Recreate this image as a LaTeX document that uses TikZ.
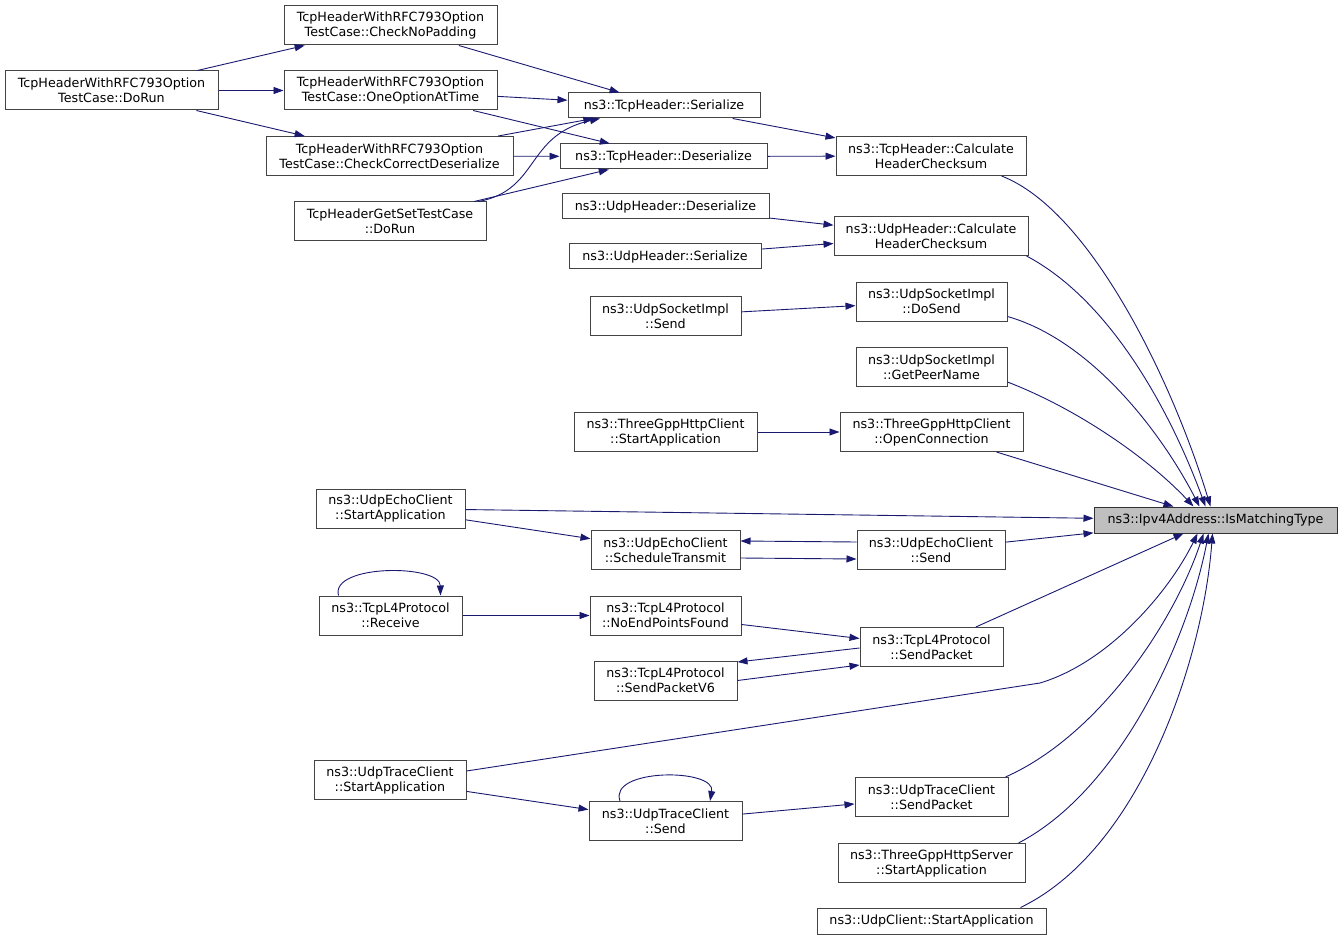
\documentclass[tikz,border=0pt]{standalone}
\usepackage{fontspec}
\setmainfont{DejaVu Sans}
\usetikzlibrary{arrows.meta}
\definecolor{edgeblue}{HTML}{191970}
\definecolor{boxline}{HTML}{444444}
\definecolor{hlfill}{HTML}{BFBFBF}
\begin{document}
\begin{tikzpicture}[x=1pt,y=-1pt,
  nb/.style={draw=boxline, line width=1pt, fill=white, inner sep=0pt, align=center,
    font=\fontsize{12.7}{15}\selectfont},
  two/.style={minimum height=39pt},
  one/.style={minimum height=25pt},
  hl/.style={nb, fill=hlfill, draw=black!80},
  ed/.style={draw=edgeblue, line width=0.9pt, -{Triangle[length=10pt,width=7pt]}, fill=none},
]
\useasboundingbox (0,0) rectangle (1343,941);
% nodes
\node[nb,two,minimum width=213pt] (cnp) at (390.5,25.5) {TcpHeaderWithRFC793Option\\TestCase::CheckNoPadding};
\node[nb,two,minimum width=213pt] (dorun) at (111.5,90.5) {TcpHeaderWithRFC793Option\\TestCase::DoRun};
\node[nb,two,minimum width=213pt] (ooat) at (390.5,90.5) {TcpHeaderWithRFC793Option\\TestCase::OneOptionAtTime};
\node[nb,two,minimum width=247pt] (ccd) at (389.5,156) {TcpHeaderWithRFC793Option\\TestCase::CheckCorrectDeserialize};
\node[nb,two,minimum width=192pt] (getset) at (390,221.5) {TcpHeaderGetSetTestCase\\::DoRun};
\node[nb,one,minimum width=192pt] (tser) at (664,105.5) {ns3::TcpHeader::Serialize};
\node[nb,one,minimum width=207pt] (tdes) at (663.5,156.5) {ns3::TcpHeader::Deserialize};
\node[nb,two,minimum width=190pt] (tcalc) at (931,156) {ns3::TcpHeader::Calculate\\HeaderChecksum};
\node[nb,one,minimum width=207pt] (udes) at (665.5,206.5) {ns3::UdpHeader::Deserialize};
\node[nb,two,minimum width=194pt] (ucalc) at (931,236) {ns3::UdpHeader::Calculate\\HeaderChecksum};
\node[nb,one,minimum width=192pt] (user) at (665,256.5) {ns3::UdpHeader::Serialize};
\node[nb,two,minimum width=151pt] (usend) at (665.5,316) {ns3::UdpSocketImpl\\::Send};
\node[nb,two,minimum width=151pt] (dosend) at (931.5,301.5) {ns3::UdpSocketImpl\\::DoSend};
\node[nb,two,minimum width=151pt] (gpn) at (931.5,367) {ns3::UdpSocketImpl\\::GetPeerName};
\node[nb,two,minimum width=183pt] (tgcs) at (665.5,432) {ns3::ThreeGppHttpClient\\::StartApplication};
\node[nb,two,minimum width=183pt] (opc) at (931.5,432) {ns3::ThreeGppHttpClient\\::OpenConnection};
\node[nb,two,minimum width=149pt] (uecs) at (390.5,508.5) {ns3::UdpEchoClient\\::StartApplication};
\node[hl,one,minimum width=243pt,minimum height=26pt] (ipv4) at (1215.5,520) {ns3::Ipv4Address::IsMatchingType};
\node[nb,two,minimum width=149pt] (st) at (665.5,550) {ns3::UdpEchoClient\\::ScheduleTransmit};
\node[nb,two,minimum width=148pt] (uesend) at (931,550) {ns3::UdpEchoClient\\::Send};
\node[nb,two,minimum width=143pt] (recv) at (390.5,615.5) {ns3::TcpL4Protocol\\::Receive};
\node[nb,two,minimum width=151pt] (nepf) at (665.5,615.5) {ns3::TcpL4Protocol\\::NoEndPointsFound};
\node[nb,two,minimum width=143pt] (sp) at (931.5,647) {ns3::TcpL4Protocol\\::SendPacket};
\node[nb,two,minimum width=143pt] (v6) at (665.5,680.5) {ns3::TcpL4Protocol\\::SendPacketV6};
\node[nb,two,minimum width=152pt] (utsa) at (390,780) {ns3::UdpTraceClient\\::StartApplication};
\node[nb,two,minimum width=153pt] (uts) at (665.5,821) {ns3::UdpTraceClient\\::Send};
\node[nb,two,minimum width=153pt] (utsp) at (931.5,797) {ns3::UdpTraceClient\\::SendPacket};
\node[nb,two,minimum width=187pt] (tgss) at (931.5,863) {ns3::ThreeGppHttpServer\\::StartApplication};
\node[nb,one,minimum width=229pt,minimum height=26pt] (ucsa) at (931.5,921) {ns3::UdpClient::StartApplication};
% edges
\draw[ed] (dorun) -- (cnp);
\draw[ed] (dorun) -- (ooat);
\draw[ed] (dorun) -- (ccd);
\draw[ed] (cnp) -- (tser);
\draw[ed] (ooat) -- (tser);
\draw[ed] (ooat) -- (tdes);
\draw[ed] (ccd) -- (tser);
\draw[ed] (ccd) -- (tdes);
\draw[ed] ([xshift=-8pt]getset.north east) .. controls (540,190) and (525,135) .. ([xshift=-64pt]tser.south);
\draw[ed] (getset) -- (tdes);
\draw[ed] (tser) -- (tcalc);
\draw[ed] (tdes) -- (tcalc);
\draw[ed] (udes) -- (ucalc);
\draw[ed] (user) -- (ucalc);
\draw[ed] (usend) -- (dosend);
\draw[ed] (tgcs) -- (opc);
\draw[ed] (uecs) -- (ipv4);
\draw[ed] (uecs) -- (st);
\draw[ed] ([yshift=-8pt]st.east) -- ([yshift=-9pt]uesend.west);
\draw[ed] ([yshift=8pt]uesend.west) -- ([yshift=9pt]st.east);
\draw[ed] (uesend) -- (ipv4);
\draw[ed] ([xshift=-52pt]recv.north) .. controls (330,564) and (440,564) .. ([xshift=50pt]recv.north);
\draw[ed] (recv) -- (nepf);
\draw[ed] (nepf) -- (sp);
\draw[ed] ([yshift=-1pt]sp.west) -- ([yshift=18.5pt]v6.east);
\draw[ed] (v6.east) -- ([yshift=-18pt]sp.west);
\draw[ed] (sp) -- ([xshift=-32pt]ipv4.south);
\draw[ed] (utsa) -- (uts);
\draw[ed] ([xshift=-45.5pt]uts.north) .. controls (608,768) and (716,768) .. ([xshift=44.5pt]uts.north);
\draw[ed] (uts) -- (utsp);
\draw[ed] ([yshift=9pt]utsa.east) -- (1040,683) .. controls (1110,662) and (1170,590) .. ([xshift=-18pt]ipv4.south);
\draw[ed] ([xshift=-3pt]utsp.north east) .. controls (1100,735) and (1175,620) .. ([xshift=-12pt]ipv4.south);
\draw[ed] ([xshift=-7pt]tgss.north east) .. controls (1120,790) and (1188,640) .. ([xshift=-7pt]ipv4.south);
\draw[ed] ([xshift=-26pt]ucsa.north east) .. controls (1140,850) and (1203,660) .. ([xshift=-3pt]ipv4.south);
\draw[ed] ([xshift=-25pt]tcalc.south east) .. controls (1090,210) and (1172,380) .. ([xshift=-5pt]ipv4.north);
\draw[ed] ([xshift=-2pt]ucalc.south east) .. controls (1110,300) and (1170,410) .. ([xshift=-10pt]ipv4.north);
\draw[ed] ([yshift=-15pt]dosend.east) .. controls (1090,340) and (1160,430) .. ([xshift=-16pt]ipv4.north);
\draw[ed] ([yshift=-15pt]gpn.east) .. controls (1080,410) and (1150,460) .. ([xshift=-22pt]ipv4.north);
\draw[ed] (opc) -- ([xshift=-42pt]ipv4.north);
\end{tikzpicture}
\end{document}
